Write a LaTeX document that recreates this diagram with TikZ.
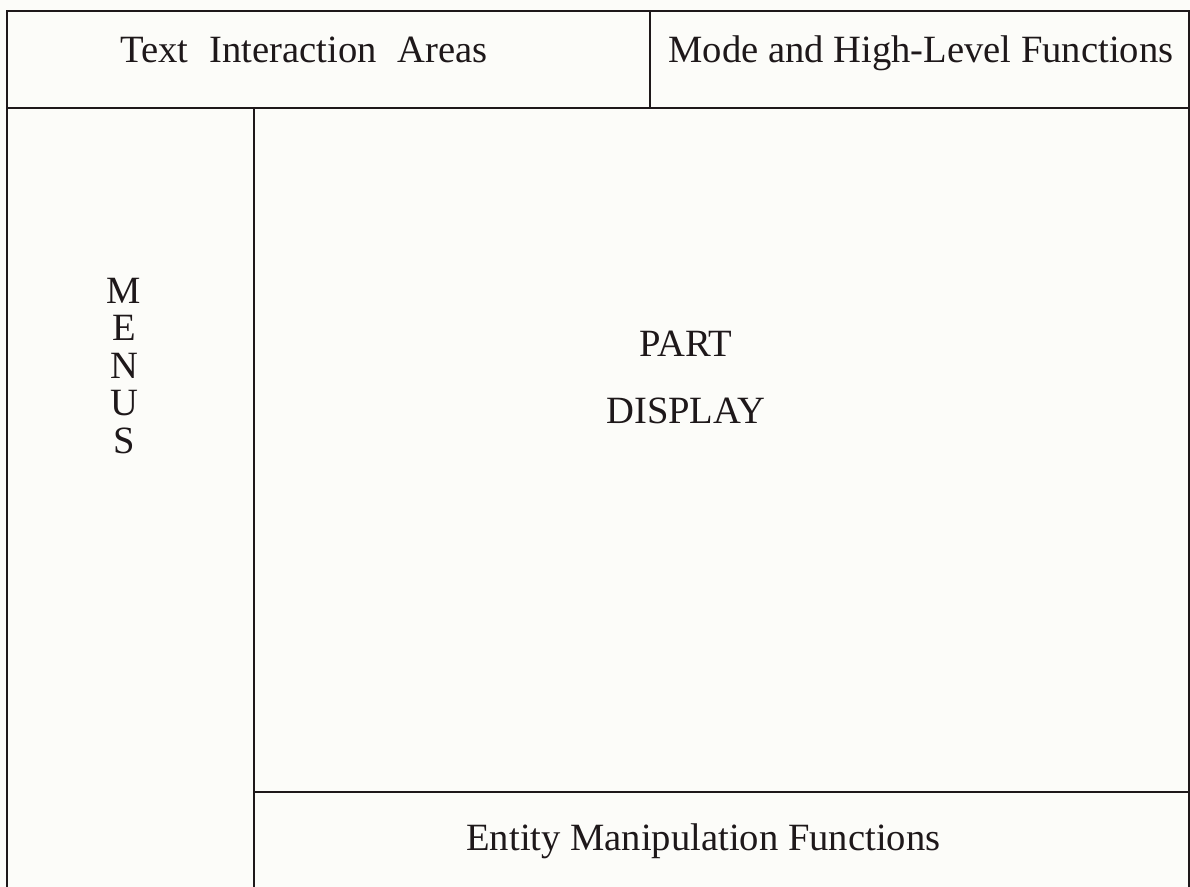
\documentclass[tikz,border=0pt]{standalone}
\usepackage{fontspec}
\setmainfont{Liberation Serif}
\definecolor{paper}{RGB}{252,252,249}
\definecolor{ink}{RGB}{30,24,26}
\begin{document}
\begin{tikzpicture}[x=0.5pt,y=-0.5pt,
  frame/.style={line width=1.1pt,draw=ink},
  lbl/.style={font=\fontsize{19.3}{23}\selectfont,inner sep=0pt,text=ink}]
\useasboundingbox (0,0) rectangle (1190,887);
\fill[paper] (0,0) rectangle (1190,887);
% frame lines
\draw[frame] (7,887) -- (7,11) -- (1189,11) -- (1189,887);
\draw[frame] (7,108) -- (1189,108);
\draw[frame] (650,11) -- (650,108);
\draw[frame] (254,108) -- (254,887);
\draw[frame] (254,792) -- (1189,792);
% labels
\node[lbl,anchor=base] (tia) at (304,63) {Text\hspace{0.55em}Interaction\hspace{0.55em}Areas};
\node[lbl,anchor=base] (mhl) at (921,63) {Mode and High-Level Functions};
\node[lbl,align=center,font=\fontsize{19.3}{18.75}\selectfont] (menus) at (124,366) {M\\E\\N\\U\\S};
\node[lbl,anchor=base] (part) at (686,357) {PART};
\node[lbl,anchor=base] (disp) at (686,424) {DISPLAY};
\node[lbl,anchor=base west] (emf) at (466,850) {Entity Manipulation Functions};
\end{tikzpicture}
\end{document}
